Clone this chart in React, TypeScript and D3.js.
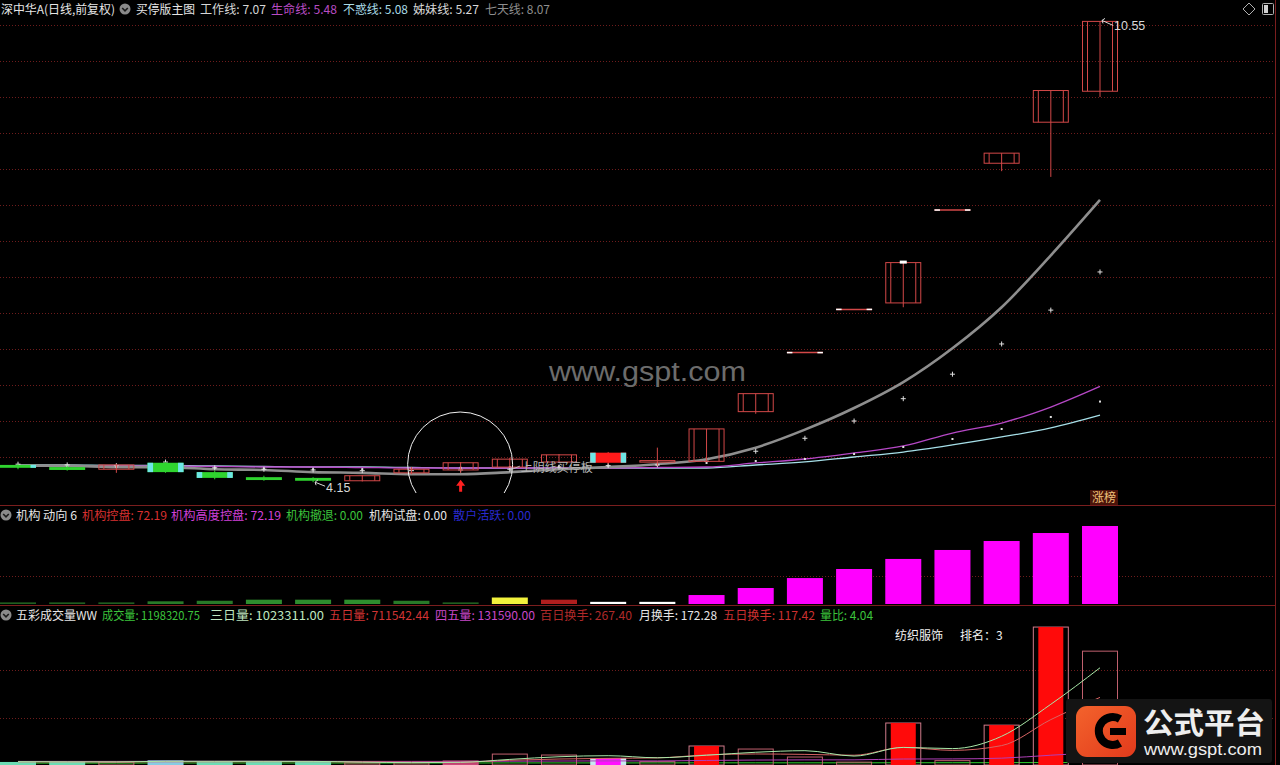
import React from "react";
import * as d3 from "d3";

const W = 1280;
const H = 765;
const FONT = "'Noto Sans CJK SC', 'Noto Sans', sans-serif";

// ---------------- data ----------------
const dayIndex = d3.range(23);
const opens = [4.39, 4.36, 4.33, 4.42, 4.29, 4.22, 4.21, 4.17, 4.28, 4.32, 4.36, 4.43, 4.42, 4.43, 4.44, 5.13, 5.95, 6.55, 6.64, 7.93, 8.58, 9.15, 9.58];
const highs = [4.40, 4.38, 4.40, 4.43, 4.31, 4.24, 4.22, 4.25, 4.36, 4.43, 4.49, 4.54, 4.57, 4.63, 4.89, 5.38, 5.95, 6.55, 7.21, 7.93, 8.72, 9.59, 10.55];
const lows = [4.33, 4.31, 4.28, 4.28, 4.19, 4.17, 4.15, 4.16, 4.26, 4.28, 4.35, 4.42, 4.40, 4.38, 4.43, 5.10, 5.95, 6.55, 6.58, 7.93, 8.47, 8.39, 9.50];
const closes = [4.35, 4.32, 4.39, 4.29, 4.21, 4.18, 4.17, 4.24, 4.33, 4.42, 4.47, 4.53, 4.56, 4.45, 4.89, 5.38, 5.95, 6.55, 7.20, 7.93, 8.72, 9.59, 10.55];
const candleSignal = ["edgeRight", "", "", "edges", "edges", "", "", "", "", "", "", "", "edgesFill", "", "", "", "", "", "top", "", "", "", ""];

const workLine = [4.40, 4.39, 4.38, 4.43, 4.35, 4.33, 4.32, 4.31, 4.31, 4.32, 4.33, 4.36, 4.38, 4.39, 4.44, 4.58, 4.76, 5.00, 5.31, 5.65, 6.07, 6.54, 7.07];
const lifeLine = [4.375, 4.375, 4.375, 4.375, 4.368, 4.361, 4.361, 4.354, 4.347, 4.347, 4.347, 4.347, 4.347, 4.354, 4.361, 4.417, 4.472, 4.556, 4.653, 4.833, 4.972, 5.194, 5.48];
const steadyLine = [4.389, 4.389, 4.382, 4.382, 4.375, 4.368, 4.361, 4.361, 4.354, 4.347, 4.347, 4.347, 4.347, 4.347, 4.347, 4.389, 4.431, 4.50, 4.569, 4.667, 4.778, 4.903, 5.08];
const sisterLine = [4.37, 4.37, 4.36, 4.36, 4.35, 4.34, 4.33, 4.33, 4.34, 4.35, 4.36, 4.37, 4.38, 4.39, 4.417, 4.444, 4.472, 4.542, 4.639, 4.75, 4.889, 5.056, 5.27];
const sevenLine = [4.38, 4.38, 4.36, 4.36, 4.33, 4.32, 4.29, 4.28, 4.26, 4.26, 4.29, 4.33, 4.36, 4.40, 4.47, 4.63, 4.88, 5.18, 5.54, 6.01, 6.58, 7.30, 8.07];
const priceTicks = d3.range(4.5, 10.51, 0.5);

const instValues = [1.5, 1.5, 1.5, 2.5, 3, 4, 4, 4, 3, 1.5, 6, 4, 2, 2, 8.3, 14.8, 24, 32.4, 41.7, 50, 58.3, 65.7, 72.19];
const instKinds = ["retreat", "retreat", "retreat", "retreat2", "retreat2", "retreat3", "retreat3", "retreat3", "retreat2", "retreat", "trial", "control", "watch", "watch", "high", "high", "high", "high", "high", "high", "high", "high", "high"];
const instTicks = [26];

const volumes = [32000, 32000, 30000, 50000, 32000, 32000, 32000, 22000, 22000, 42000, 115000, 105000, 74000, 35000, 200000, 168000, 84000, 30000, 442000, 45777, 419613, 1452000, 1198320];
const volKinds = ["down", "down", "up", "downBlue", "down", "down", "down", "up", "up", "upPink", "up", "up", "mark", "up", "surge", "up", "up", "up", "surge", "up", "surge", "surge", "up"];
const vol3 = [35000, 33000, 32000, 39000, 39000, 39000, 38000, 30000, 25000, 28000, 59000, 87000, 98000, 76000, 103000, 134000, 150700, 94000, 185300, 172600, 302500, 639100, 1023311];
const vol5 = [33000, 33000, 33000, 34000, 34000, 35000, 35000, 33000, 30000, 30000, 50000, 63000, 70000, 75000, 106000, 116000, 112000, 103000, 184800, 153955, 204278, 477878, 711542];
const vol45 = [38000, 38000, 38000, 39000, 39000, 39000, 39000, 38000, 38000, 38000, 40000, 42000, 43000, 43000, 48000, 52000, 54000, 54000, 63000, 64000, 72000, 103000, 131590];
const volLong = [20000, 20000, 20000, 21000, 21000, 21000, 21000, 21000, 21000, 21000, 22000, 22000, 22000, 22000, 23000, 23000, 23000, 23000, 24000, 24000, 25000, 26000, 27000];
const volTicks = [500000, 1000000];

type Item = { x: number; w: number; t: string; c: string };
const header1: Item[] = [
  { x: 1, w: 114, t: "深中华A(日线,前复权)", c: "#e6e6e6" },
  { x: 136, w: 59, t: "买停版主图", c: "#e6e6e6" },
  { x: 200, w: 66, t: "工作线: 7.07", c: "#d6d6d6" },
  { x: 271, w: 66, t: "生命线: 5.48", c: "#b84cc4" },
  { x: 343, w: 65, t: "不惑线: 5.08", c: "#a9dbe6" },
  { x: 413, w: 66, t: "姊妹线: 5.27", c: "#d8d8d8" },
  { x: 485, w: 65, t: "七天线: 8.07", c: "#8e8e8e" },
];
const header2: Item[] = [
  { x: 16, w: 61, t: "机构 动向 6", c: "#e6e6e6" },
  { x: 82, w: 85, t: "机构控盘: 72.19", c: "#d83030" },
  { x: 171, w: 110, t: "机构高度控盘: 72.19", c: "#d040d8" },
  { x: 286, w: 77, t: "机构撤退: 0.00", c: "#3cc43c" },
  { x: 369, w: 78, t: "机构试盘: 0.00", c: "#e6e6e6" },
  { x: 453, w: 78, t: "散户活跃: 0.00", c: "#2a2ad0" },
];
const header3: Item[] = [
  { x: 16, w: 81, t: "五彩成交量WW", c: "#e6e6e6" },
  { x: 102, w: 98, t: "成交量: 1198320.75", c: "#3cc43c" },
  { x: 210, w: 114, t: "三日量: 1023311.00", c: "#bfe6bf" },
  { x: 329, w: 100, t: "五日量: 711542.44", c: "#d23434" },
  { x: 435, w: 100, t: "四五量: 131590.00", c: "#c848c8" },
  { x: 540, w: 92, t: "百日换手: 267.40", c: "#b02a2a" },
  { x: 639, w: 78, t: "月换手: 172.28", c: "#e6e6e6" },
  { x: 723, w: 92, t: "五日换手: 117.42", c: "#cc3030" },
  { x: 820, w: 53, t: "量比: 4.04", c: "#3cc43c" },
];

// ---------------- styles ----------------
const RED = "#d24848";
const GREEN = "#2fd42f";
const CYAN = "#6ee6e6";
const GRID = "#6e1c1c";
const SEP = "#7a1e1e";
const instColor: Record<string, string> = {
  retreat: "#1f5f1f",
  retreat2: "#287a28",
  retreat3: "#2e8e2e",
  trial: "#f2f23c",
  control: "#b01e1e",
  watch: "#ffffff",
  high: "#ff00ff",
};

function Icon({ x, y }: { x: number; y: number }) {
  return (
    <g>
      <circle cx={x} cy={y} r={5.5} fill="#8a8a8a" />
      <path d={`M${x - 2.8} ${y - 1} L${x} ${y + 1.8} L${x + 2.8} ${y - 1}`} stroke="#1a1a1a" strokeWidth={1.6} fill="none" />
    </g>
  );
}

export default function App() {
  const x = d3.scaleLinear().domain([0, 22]).range([18, 1100]);
  const yP = d3.scaleLinear().domain([4.5, 10.5]).range([457, 25]);
  const yI = d3.scaleLinear().domain([0, 72.19]).range([604, 526]);
  const yV = d3.scaleLinear().domain([0, 1000000]).range([765, 670]);
  const bw = 18;
  const bi = 12.5;

  const pLine = (vals: number[]) =>
    d3.line<number>().x((_, i) => x(i)).y((v) => yP(v)).curve(d3.curveMonotoneX)(vals) || "";
  const vLine = (vals: number[]) =>
    d3.line<number>().x((_, i) => x(i)).y((v) => yV(v)).curve(d3.curveMonotoneX)(vals) || "";

  const txt = (items: Item[], y: number) =>
    items.map((d, k) => (
      <text key={k} x={d.x} y={y} fill={d.c} fontSize={12} fontFamily={FONT} textLength={d.w} lengthAdjust="spacingAndGlyphs">
        {d.t}
      </text>
    ));

  return (
    <svg width={W} height={H} style={{ position: "fixed", left: 0, top: 0, background: "#000" }}>
      <defs>
        <clipPath id="mainClip">
          <rect x={0} y={18} width={1275} height={475} />
        </clipPath>
        <linearGradient id="gLogo" x1="0" y1="0" x2="1" y2="1">
          <stop offset="0" stopColor="#f3632c" />
          <stop offset="1" stopColor="#e23a1c" />
        </linearGradient>
      </defs>
      <rect x={0} y={0} width={W} height={H} fill="#000" />

      {/* grid */}
      {priceTicks.map((p, k) => (
        <line key={k} x1={0} x2={1275} y1={Math.round(yP(p)) + 0.5} y2={Math.round(yP(p)) + 0.5} stroke={GRID} strokeDasharray="1 2" />
      ))}
      {instTicks.map((v, k) => (
        <line key={k} x1={0} x2={1275} y1={Math.round(yI(v)) + 0.5} y2={Math.round(yI(v)) + 0.5} stroke={GRID} strokeDasharray="1 2" />
      ))}
      {volTicks.map((v, k) => (
        <line key={k} x1={0} x2={1275} y1={Math.round(yV(v)) + 0.5} y2={Math.round(yV(v)) + 0.5} stroke={GRID} strokeDasharray="1 2" />
      ))}

      {/* separators */}
      <line x1={0} x2={1276} y1={505.5} y2={505.5} stroke={SEP} />
      <line x1={0} x2={1276} y1={605.5} y2={605.5} stroke={SEP} />
      <line x1={1275.5} x2={1275.5} y1={0} y2={H} stroke={SEP} />

      {/* watermark */}
      <text x={549} y={381} fontSize={27} fill="#6c6c6c" fontFamily="'Liberation Sans', Arial, sans-serif" textLength={197} lengthAdjust="spacingAndGlyphs">
        www.gspt.com
      </text>

      {/* main lines */}
      <g clipPath="url(#mainClip)">
        <path d={pLine(steadyLine)} stroke="#a6dfe8" strokeWidth={1.3} fill="none" />
        <path d={pLine(lifeLine)} stroke="#b648c6" strokeWidth={1.3} fill="none" />
        <path d={pLine(sevenLine)} stroke="#8e8e8e" strokeWidth={2.6} fill="none" />
        {sisterLine.map((v, i) => (
          <rect key={i} x={x(i) - 1} y={yP(v) - 1} width={2} height={2} fill="#e0e0e0" />
        ))}
        {workLine.map((v, i) => (
          <path key={i} d={`M${x(i) - 2.5} ${yP(v)} h5 M${x(i)} ${yP(v) - 2.5} v5`} stroke="#e0e0e0" strokeWidth={1} />
        ))}

        {/* candles */}
        {dayIndex.map((i) => {
          const o = opens[i], c = closes[i], h = highs[i], l = lows[i];
          const cx = x(i);
          const sig = candleSignal[i];
          if (h - l < 0.005) {
            const yy = yP(c);
            return (
              <g key={i}>
                <line x1={cx - bw} x2={cx + bw} y1={yy} y2={yy} stroke={RED} strokeWidth={1.5} />
                <line x1={cx - bw} x2={cx - bi} y1={yy} y2={yy} stroke="#ffffff" strokeWidth={1.5} />
                <line x1={cx + bi} x2={cx + bw} y1={yy} y2={yy} stroke="#ffffff" strokeWidth={1.5} />
              </g>
            );
          }
          const up = c >= o;
          const top = yP(Math.max(o, c));
          const bot = yP(Math.min(o, c));
          const hgt = Math.max(1.5, bot - top);
          if (up && sig !== "edgesFill") {
            return (
              <g key={i}>
                <line x1={cx} x2={cx} y1={yP(h)} y2={yP(l)} stroke={RED} />
                <rect x={cx - bw + 0.5} y={top} width={bw * 2 - 1} height={hgt} fill="none" stroke={RED} />
                {hgt > 3 && (
                  <>
                    <line x1={cx - bi} x2={cx - bi} y1={top} y2={top + hgt} stroke={RED} />
                    <line x1={cx + bi} x2={cx + bi} y1={top} y2={top + hgt} stroke={RED} />
                  </>
                )}
                {sig === "top" && <rect x={cx - 3.5} y={top - 2} width={7} height={3} fill="#ffffff" />}
              </g>
            );
          }
          const fill = up ? "#ff1a1a" : GREEN;
          return (
            <g key={i}>
              <line x1={cx} x2={cx} y1={yP(h)} y2={yP(l)} stroke={up ? RED : GREEN} />
              <rect x={cx - bw} y={top} width={bw * 2} height={hgt} fill={fill} />
              {(sig === "edges" || sig === "edgesFill") && (
                <>
                  <rect x={cx - bw} y={top} width={bw - bi} height={hgt} fill={CYAN} />
                  <rect x={cx + bi} y={top} width={bw - bi} height={hgt} fill={CYAN} />
                </>
              )}
              {sig === "edgeRight" && <rect x={cx + bi} y={top} width={bw - bi} height={hgt} fill={CYAN} />}
            </g>
          );
        })}

        {/* circle marker */}
        <circle cx={x(9) - 0.5} cy={464.5} r={52.5} fill="none" stroke="#f0f0f0" strokeWidth={1} />
      </g>
      <path d={`M${x(9)} ${yP(lows[9]) + 7} l-4.5 6 h3 v6 h3 v-6 h3 Z`} fill="#ff2020" />

      {/* annotations */}
      <path d={`M${x(6) + 12} ${yP(4.15) + 4} L${x(6) + 2} ${yP(4.15)} M${x(6) + 2} ${yP(4.15)} l3 -2.5 M${x(6) + 2} ${yP(4.15)} l1 3`} stroke="#d8d8d8" fill="none" />
      <text x={x(6) + 13} y={yP(4.15) + 10} fontSize={12.5} fill="#d8d8d8" fontFamily="'Liberation Sans', Arial, sans-serif">4.15</text>
      <path d={`M${x(22) + 13} ${yP(10.55) + 4} L${x(22) + 2} ${yP(10.55) - 1} M${x(22) + 2} ${yP(10.55) - 1} l3 -2 M${x(22) + 2} ${yP(10.55) - 1} l1 3`} stroke="#d8d8d8" fill="none" />
      <text x={x(22) + 14} y={yP(10.55) + 9} fontSize={12.5} fill="#d8d8d8" fontFamily="'Liberation Sans', Arial, sans-serif">10.55</text>
      <path d={`M${x(10) + 10} ${yP(closes[10]) + 7} L${x(10) + 0} ${yP(closes[10]) + 11} M${x(10)} ${yP(closes[10]) + 11} l3 -3 M${x(10)} ${yP(closes[10]) + 11} l3 1`} stroke="#b8b8b8" fill="none" />
      <text x={x(10) + 11} y={yP(closes[10]) + 13} fontSize={12} fill="#b4b4b4" fontFamily={FONT}>上阴线买停板</text>
      <rect x={1090} y={490} width={28} height={15} fill="#4a140a" />
      <text x={1092} y={502} fontSize={12} fill="#f0c27a" fontFamily={FONT}>涨榜</text>

      {/* institution panel bars */}
      {dayIndex.map((i) => {
        const v = instValues[i];
        const t = yI(v);
        return <rect key={i} x={x(i) - bw} y={t} width={bw * 2} height={yI(0) - t} fill={instColor[instKinds[i]]} />;
      })}

      {/* volume panel */}
      <path d={vLine(volLong)} stroke="#2ccc2c" strokeWidth={1} fill="none" />
      {dayIndex.map((i) => {
        const v = volumes[i];
        const t = yV(v);
        const hh = yV(0) - t;
        const k = volKinds[i];
        if (k === "surge") {
          return (
            <g key={i}>
              <rect x={x(i) - bw + 0.5} y={t} width={bw * 2 - 1} height={hh} fill="none" stroke="#d07a8a" />
              <rect x={x(i) - bi} y={t} width={bi * 2} height={hh} fill="#ff0a0a" />
            </g>
          );
        }
        if (k === "mark") {
          return (
            <g key={i}>
              <rect x={x(i) - bw} y={t} width={bw * 2} height={hh} fill="#c8e8f0" />
              <rect x={x(i) - bi} y={t} width={bi * 2} height={hh} fill="#ff10ff" />
            </g>
          );
        }
        if (k === "down" || k === "downBlue") {
          return <rect key={i} x={x(i) - bw} y={t} width={bw * 2} height={hh} fill={k === "down" ? "#6cdcb4" : "#86cce4"} />;
        }
        return (
          <rect key={i} x={x(i) - bw + 0.5} y={t} width={bw * 2 - 1} height={hh} fill={k === "upPink" ? "#c04070" : "none"} stroke={k === "upPink" ? "#d05080" : "#c0606e"} />
        );
      })}
      <path d={vLine(vol45)} stroke="#b040b8" strokeWidth={1} fill="none" />
      <path d={vLine(vol5)} stroke="#d86464" strokeWidth={1} fill="none" />
      <path d={vLine(vol3)} stroke="#a8e8a8" strokeWidth={1} fill="none" />

      <text x={895} y={640} fontSize={12} fill="#f0f0f0" fontFamily={FONT}>纺织服饰</text>
      <text x={960} y={640} fontSize={12} fill="#f0f0f0" fontFamily={FONT}>排名：3</text>

      {/* logo */}
      <rect x={1066} y={699} width={206} height={64} fill="#141414" rx={3} />
      <rect x={1076} y={706} width={60} height={51} rx={11} fill="url(#gLogo)" />
      <path d="M1120 719 A14 14 0 1 0 1120 743" stroke="#000" strokeWidth={8} fill="none" />
      <rect x={1110} y={728} width={16} height={7} fill="#000" />
      <text x={1143} y={734} fontSize={29} fontWeight="bold" fill="#eeeeee" fontFamily={FONT} textLength={122} lengthAdjust="spacingAndGlyphs">公式平台</text>
      <text x={1144} y={755} fontSize={16} fill="#eeeeee" fontFamily="'Liberation Sans', Arial, sans-serif" textLength={118} lengthAdjust="spacingAndGlyphs">www.gspt.com</text>

      {/* headers */}
      {txt(header1, 14)}
      <Icon x={125} y={9} />
      {txt(header2, 520)}
      <Icon x={6} y={515} />
      {txt(header3, 620)}
      <Icon x={6} y={615} />

      {/* top-right icons */}
      <path d="M1249 3 L1255 9 L1249 15 L1243 9 Z" stroke="#b0b0b0" fill="none" />
      <rect x={1262.5} y={3.5} width={11} height={11} stroke="#b0b0b0" fill="none" rx={1} />
      <rect x={1264} y={5} width={4} height={8} fill="#d0d0d0" />
    </svg>
  );
}
